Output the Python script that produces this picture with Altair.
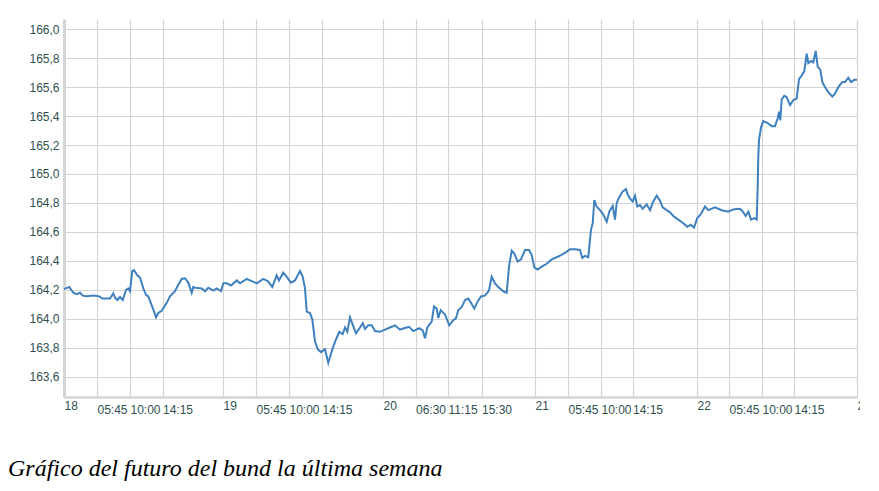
import altair as alt
import pandas as pd

# bar index (trading-session position) and bund future price
t_a = [0, 5.3, 9.3, 12.7, 16, 18.7, 22.7, 29.3, 35.3, 38.7, 46, 49.3, 51, 53.3, 56, 58.7, 62, 64.3, 66, 68.3,
       70, 73.3, 76, 79.3, 82, 84.3, 88.7, 92, 94.3, 97.7, 102.7, 106, 111, 114.3, 117.7, 121, 124.3, 127.7, 129.3, 131]
p_a = [164.205, 164.22, 164.18, 164.17, 164.18, 164.16, 164.155, 164.16, 164.155, 164.14, 164.14, 164.175, 164.145,
       164.13, 164.15, 164.13, 164.20, 164.21, 164.19, 164.33, 164.335, 164.30, 164.285, 164.21, 164.165, 164.155,
       164.075, 164.01, 164.04, 164.055, 164.11, 164.155, 164.19, 164.235, 164.275, 164.28, 164.25, 164.18, 164.22, 164.215]

t_b = [137.7, 141, 144.3, 149.3, 152.7, 157, 159.3, 162.7, 167, 172.7, 176, 182.7, 187.7, 192.7, 199.3, 203.7, 208.3,
       212.7, 215, 219.3, 222.7, 227, 231, 236, 238.7, 241, 242.7, 246, 248.3, 251, 253.7, 257, 261, 264.3, 267.7, 271]
p_b = [164.21, 164.19, 164.215, 164.195, 164.21, 164.19, 164.245, 164.245, 164.23, 164.265, 164.245, 164.275, 164.26,
       164.245, 164.275, 164.26, 164.22, 164.30, 164.265, 164.32, 164.29, 164.25, 164.265, 164.33, 164.29, 164.21,
       164.05, 164.04, 163.995, 163.845, 163.79, 163.77, 163.79, 163.695, 163.775, 163.84]

t_c = [275.3, 278.7, 281, 283.3, 286, 288.7, 292, 296, 298.7, 301, 304.3, 307.7, 311, 316, 321, 326, 331, 336, 340, 345,
       349.3, 355.3, 358.7, 361, 363.3, 366, 367.7, 370, 372.7, 374.3, 376.7, 381, 385.3, 389.3, 392, 394.3, 397.7, 401, 404.3]
p_c = [163.91, 163.895, 163.94, 163.91, 164.01, 163.96, 163.90, 163.94, 163.97, 163.93, 163.955, 163.955, 163.915,
       163.91, 163.925, 163.94, 163.955, 163.925, 163.935, 163.945, 163.915, 163.935, 163.92, 163.865, 163.94, 163.965,
       163.98, 164.085, 164.07, 164.005, 164.06, 164.03, 163.955, 163.99, 164.005, 164.06, 164.08, 164.13, 164.14]

t_d = [407, 410.3, 413.7, 417, 421, 425, 427.7, 431, 434.3, 439.3, 442.7, 445, 447.7, 450.3, 453.7, 457, 461, 465, 467.7,
       470.3, 473.7, 477.7, 482.7, 487.7, 494.3, 501, 506, 511, 516, 518.3, 521, 524.3, 527, 528.7, 530.3, 532.7]
p_d = [164.11, 164.07, 164.12, 164.155, 164.16, 164.195, 164.29, 164.245, 164.22, 164.19, 164.18, 164.36, 164.47,
       164.45, 164.395, 164.41, 164.475, 164.475, 164.44, 164.355, 164.34, 164.36, 164.38, 164.41, 164.43, 164.455,
       164.48, 164.48, 164.475, 164.42, 164.435, 164.425, 164.615, 164.66, 164.82, 164.775]

t_e = [536, 539.3, 542.7, 545.3, 548.7, 551, 552.7, 555.3, 558.7, 562, 563.3, 566, 568.7, 571, 573.3, 576, 578.7, 582.7,
       586, 589.3, 592.7, 596, 598.7, 602.7, 606, 610, 614.3, 619.3, 623.3, 626.7, 630, 633.3, 636.7, 641, 644.3, 651,
       657.7, 664.3, 669.3, 674.3]
p_e = [164.75, 164.72, 164.67, 164.74, 164.78, 164.685, 164.80, 164.84, 164.88, 164.895, 164.865, 164.83, 164.81,
       164.85, 164.775, 164.785, 164.76, 164.79, 164.75, 164.81, 164.85, 164.815, 164.77, 164.75, 164.735, 164.705,
       164.685, 164.66, 164.635, 164.65, 164.63, 164.695, 164.72, 164.775, 164.75, 164.77, 164.75, 164.74, 164.755, 164.76]

t_f = [677, 679.3, 681.7, 684.3, 687, 690.3, 692.7, 693.7, 694.3, 695, 697, 699.3, 702.7, 707.7, 711, 713.7, 715, 716.3,
       717.7, 720.3, 722.7, 726, 729.3, 732.7, 735, 737.7, 740.3, 742.7, 744.3, 747, 749.3, 751.7, 753.7, 756.3, 758.3,
       761, 764.3, 768.3, 771, 774.3, 778.3, 781, 784.3, 787, 790.3, 793]
p_f = [164.755, 164.735, 164.71, 164.74, 164.685, 164.695, 164.685, 164.91, 165.12, 165.235, 165.32, 165.365, 165.355,
       165.33, 165.33, 165.385, 165.43, 165.37, 165.515, 165.54, 165.53, 165.475, 165.51, 165.52, 165.655, 165.68,
       165.71, 165.83, 165.765, 165.78, 165.77, 165.85, 165.74, 165.72, 165.635, 165.60, 165.565, 165.535, 165.555,
       165.60, 165.635, 165.635, 165.665, 165.635, 165.65, 165.65]

# x-axis ticks (bar index) and their labels
tick_pos = [0, 33, 66, 98.5, 159, 192, 225, 258, 319, 351.5, 384, 417.5, 471, 504, 537, 568.5, 633, 665, 698, 730, 793]
tick_lbl = ["18", "05:45", "10:00", "14:15", "19", "05:45", "10:00", "14:15", "20", "06:30", "11:15", "15:30",
            "21", "05:45", "10:00", "14:15", "22", "05:45", "10:00", "14:15", "23"]
day_pos = [0, 159, 319, 471, 633, 793]

y_ticks = [163.6, 163.8, 164.0, 164.2, 164.4, 164.6, 164.8, 165.0, 165.2, 165.4, 165.6, 165.8, 166.0]
CAPTION = "Gráfico del futuro del bund la última semana"

t_all = t_a + t_b + t_c + t_d + t_e + t_f
p_all = p_a + p_b + p_c + p_d + p_e + p_f
assert len(t_all) == len(p_all)
df = pd.DataFrame({"t": t_all, "precio": p_all})

label_expr = "[" + ",".join("'%s'" % s for s in tick_lbl) + "][indexof([" + ",".join(str(v) for v in tick_pos) + "], datum.value)]"
day_test = "indexof([" + ",".join(str(v) for v in day_pos) + "], datum.value) >= 0"

TXT = "#2f4f4f"
GRID = "#d4d4d4"

line = alt.Chart(df).mark_line(color="#3f80bf", strokeWidth=2).encode(
    x=alt.X("t:Q", scale=alt.Scale(domain=[0, 793], nice=False, zero=False),
            axis=alt.Axis(values=tick_pos, labelExpr=label_expr, title=None, ticks=False,
                          labelAlign="left", labelBaseline="top", labelFlush=False,
                          labelPadding={"condition": {"test": day_test, "value": 3}, "value": 7},
                          labelFont="Liberation Sans", labelFontSize=12, labelColor=TXT,
                          domainColor=GRID, domainWidth=2.5, gridColor=GRID, gridWidth=1.2,
                          labelOverlap=False)),
    y=alt.Y("precio:Q", scale=alt.Scale(domain=[163.46, 166.07], nice=False, zero=False),
            axis=alt.Axis(values=y_ticks, labelExpr="replace(format(datum.value, '.1f'), '.', ',')",
                          title=None, ticks=False, labelPadding=5,
                          labelFont="Liberation Sans", labelFontSize=12, labelColor=TXT,
                          domainColor=GRID, domainWidth=3, gridColor=GRID, gridWidth=1.2)),
)

caption = alt.Chart(pd.DataFrame({"caption": [CAPTION]})).mark_text(
    align="left", baseline="alphabetic", font="Liberation Serif", fontStyle="italic",
    fontSize=24, color="#000000"
).encode(text="caption:N", x=alt.value(-56), y=alt.value(457))

chart = alt.layer(line, caption).properties(
    width=793, height=378,
    autosize=alt.AutoSizeParams(type="none"),
    padding={"left": 56, "top": 11, "right": 3, "bottom": 90},
).configure_view(stroke=None)

chart.save("out.html", embed_options={"renderer": "svg", "actions": False})
